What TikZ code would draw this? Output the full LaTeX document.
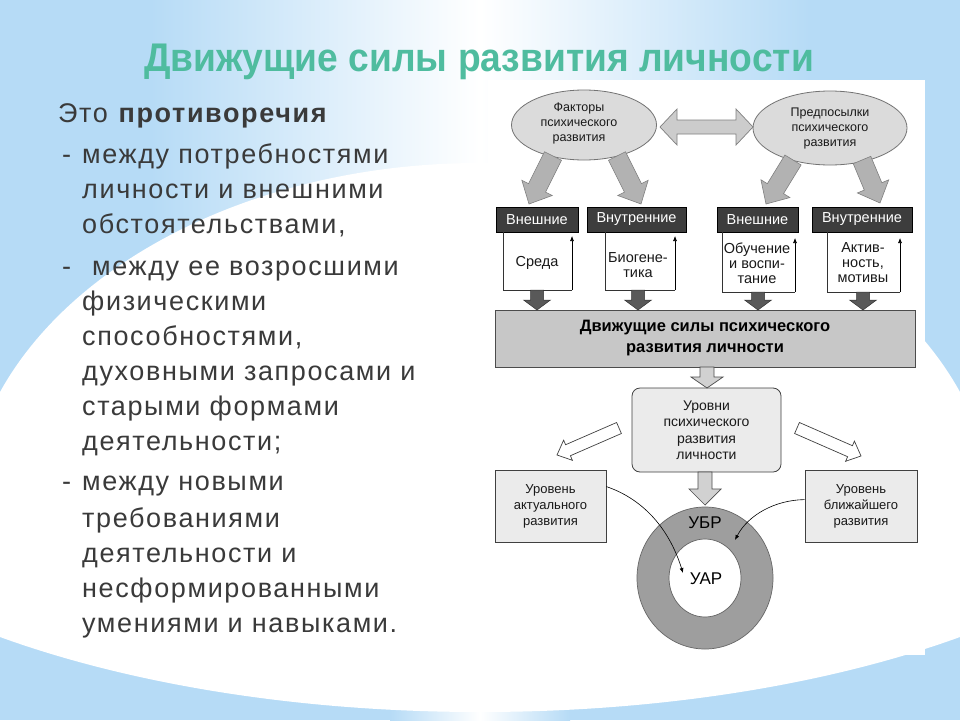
\documentclass[tikz,border=0pt]{standalone}
\usepackage{fontspec}
\setmainfont{Liberation Sans}
\newfontfamily\bodyfont{Liberation Sans}[LetterSpace=6]
\newfontfamily\titlefont{Liberation Sans}[FakeStretch=0.93]
\newfontfamily\diagfont{Liberation Sans}
\usetikzlibrary{calc,arrows.meta,shapes.geometric}
\definecolor{bgblue}{HTML}{B6DBF6}
\definecolor{titleteal}{HTML}{4FBC9F}
\definecolor{bodygray}{HTML}{3A3A3A}
\definecolor{hdrdark}{HTML}{3D3D3D}
\newcommand\blockarrow[6]{%
  \coordinate (ba-h) at ($(#3)!#6!(#2)$);
  \draw[#1] ($(#2)!#4!90:(#3)$) -- ($(ba-h)!#4!90:(#3)$) -- ($(ba-h)!#5!90:(#3)$) -- (#3)
    -- ($(ba-h)!#5!-90:(#3)$) -- ($(ba-h)!#4!-90:(#3)$) -- ($(#2)!#4!-90:(#3)$) -- cycle;
}
\tikzset{
  bodytxt/.style={anchor=base west, inner sep=0pt, text=bodygray, font=\bodyfont\fontsize{27}{32}\selectfont},
  ovaltxt/.style={align=center, inner sep=0pt, text=black!90, font=\diagfont\fontsize{12.5}{15}\selectfont},
  boxtxt/.style={align=center, inner sep=0pt, text=black!90, font=\diagfont\fontsize{14.5}{15}\selectfont},
  hdr/.style={fill=hdrdark, draw=black, line width=0.6pt, inner sep=0pt, minimum height=25pt, text=white, font=\diagfont\fontsize{14.5}{15}\selectfont},
  oval/.style={ellipse, fill=black!14, draw=black!55, line width=0.8pt},
  fatgray/.style={fill=black!30, draw=black!50, line width=0.6pt},
  darkarrow/.style={fill=black!65, draw=black!80, line width=0.5pt},
  lightarrow/.style={fill=black!18, draw=black!70, line width=0.7pt},
  hollowarrow/.style={fill=white, draw=black!75, line width=0.7pt},
  openbox/.style={draw=black!80, line width=0.7pt},
  thinarrow/.style={draw=black, line width=0.6pt, -{Latex[length=5pt,width=4pt]}},
  greybox/.style={fill=black!8, draw=black!75, line width=0.8pt, inner sep=0pt, align=center, text=black!90},
}
\begin{document}
\begin{tikzpicture}[x=1pt,y=-1pt]
\useasboundingbox (0,0) rectangle (960,720);
% background
\fill[bgblue] (0,0) rectangle (960,720);
\shade[left color=bgblue, right color=bgblue, middle color=white] (150,0) rectangle (810,360);
\shade[left color=bgblue, right color=bgblue, middle color=white] (390,360) rectangle (570,720);
\begin{scope}
  \clip (480,400) ellipse [x radius=738, y radius=312];
  \fill[white] (480,520) ellipse [x radius=514, y radius=357];
\end{scope}
\fill[white] (488,80) rectangle (925,655);

% title
\node[anchor=base, inner sep=0pt, text=titleteal, font=\titlefont\bfseries\fontsize{40}{44}\selectfont] (title) at (479,71) {Движущие силы развития личности};

% left text
\node[bodytxt] (l0) at (58,122) {Это \textbf{противоречия}};
\node[bodytxt] (d1) at (62,163) {-};
\node[bodytxt] (l1) at (82,163) {между потребностями};
\node[bodytxt] (l2) at (82,198) {личности и внешними};
\node[bodytxt] (l3) at (82,233) {обстоятельствами,};
\node[bodytxt] (d2) at (62,275) {-};
\node[bodytxt] (l4) at (92,275) {между ее возросшими};
\node[bodytxt] (l5) at (82,310) {физическими};
\node[bodytxt] (l6) at (82,345) {способностями,};
\node[bodytxt] (l7) at (82,380) {духовными запросами и};
\node[bodytxt] (l8) at (82,415) {старыми формами};
\node[bodytxt] (l9) at (82,450) {деятельности;};
\node[bodytxt] (d3) at (62,490) {-};
\node[bodytxt] (l10) at (82,490) {между новыми};
\node[bodytxt] (l11) at (82,527) {требованиями};
\node[bodytxt] (l12) at (82,562) {деятельности и};
\node[bodytxt] (l13) at (82,597) {несформированными};
\node[bodytxt] (l14) at (82,632) {умениями и навыками.};

% ovals
\node[oval, minimum width=145pt, minimum height=70pt] (o1) at (584,125) {};
\node[ovaltxt] (o1t) at (579,123) {Факторы\\психического\\развития};
\node[oval, minimum width=154pt, minimum height=74pt] (o2) at (830,128) {};
\node[ovaltxt] (o2t) at (830,128) {Предпосылки\\психического\\развития};

% double arrow
\coordinate (dal) at (660,127);
\coordinate (dar) at (753,127);
\draw[fill=black!20, draw=black!50, line width=0.7pt] (dal) -- ++(17,-18) -- ++(0,11) -- ($(dar)+(-17,-7)$) -- ++(0,-11) -- (dar)
  -- ++(-17,18) -- ++(0,-11) -- ($(dal)+(17,7)$) -- ++(0,11) -- cycle;

% headers
\node[hdr, minimum width=82pt] (h1) at (537,219.5) {Внешние};
\node[hdr, minimum width=99pt] (h2) at (636.5,219.5) {Внутренние};
\node[hdr, minimum width=81pt] (h3) at (757.5,219.5) {Внешние};
\node[hdr, minimum width=100pt] (h4) at (862,219.5) {Внутренние};

% fat arrows from ovals
\coordinate (fa1s) at (553,156); \coordinate (fa1e) at (529,204);
\coordinate (fa2s) at (617,156); \coordinate (fa2e) at (641,204);
\coordinate (fa3s) at (793,160); \coordinate (fa3e) at (766,204);
\coordinate (fa4s) at (862,160); \coordinate (fa4e) at (880,203);
\blockarrow{fatgray}{fa1s}{fa1e}{9.5pt}{17pt}{18pt}
\blockarrow{fatgray}{fa2s}{fa2e}{9.5pt}{17pt}{18pt}
\blockarrow{fatgray}{fa3s}{fa3e}{9.5pt}{17pt}{18pt}
\blockarrow{fatgray}{fa4s}{fa4e}{9.5pt}{17pt}{18pt}

% open boxes with return arrows
\coordinate (w1a) at (503,232); \coordinate (w1b) at (572,290);
\coordinate (w2a) at (605,232); \coordinate (w2b) at (675,290);
\coordinate (w3a) at (722,232); \coordinate (w3b) at (795,292);
\coordinate (w4a) at (827,232); \coordinate (w4b) at (900,292);
\foreach \i in {1,2,3,4} {
  \draw[openbox] (w\i a) |- (w\i b);
  \draw[thinarrow] (w\i b) -- ++(0,-54);
}
\node[boxtxt] (t1) at (537,263) {Среда};
\node[boxtxt] (t2) at (638,265) {Биогене-\\тика};
\node[boxtxt] (t3) at (757,263) {Обучение\\и воспи-\\тание};
\node[boxtxt] (t4) at (863,263) {Актив-\\ность,\\мотивы};

% main box
\node[fill=black!22, draw=black!70, line width=0.8pt, minimum width=420pt, minimum height=57pt, inner sep=0pt,
  align=center, font=\diagfont\bfseries\fontsize{16.5}{21}\selectfont] (mb) at (705,338.5) {Движущие силы психического\\развития личности};

% dark down arrows
\foreach \x/\yy [count=\i] in {537/290, 638/290, 758/292, 863/292} {
  \coordinate (da\i s) at (\x,\yy);
  \coordinate (da\i e) at (\x,310);
  \blockarrow{darkarrow}{da\i s}{da\i e}{6.5pt}{13.5pt}{10pt}
}

% levels box
\node[greybox, rounded corners=8pt, minimum width=149pt, minimum height=84pt,
  font=\diagfont\fontsize{14}{16.5}\selectfont] (lv) at (706.5,430) {Уровни\\психического\\развития\\личности};
\coordinate (a5s) at (707,367); \coordinate (a5e) at (707,388);
\blockarrow{lightarrow}{a5s}{a5e}{7pt}{16pt}{11pt}

% side boxes
\node[greybox, minimum width=111pt, minimum height=72pt,
  font=\diagfont\fontsize{13}{16}\selectfont] (la) at (550.5,506) {Уровень\\актуального\\развития};
\node[greybox, minimum width=112pt, minimum height=72pt,
  font=\diagfont\fontsize{13}{16}\selectfont] (lb) at (861,506) {Уровень\\ближайшего\\развития};

% hollow side arrows
\coordinate (sa1s) at (619,428); \coordinate (sa1e) at (557,455);
\coordinate (sa2s) at (797,428); \coordinate (sa2e) at (861,456);
\blockarrow{hollowarrow}{sa1s}{sa1e}{6pt}{11pt}{12pt}
\blockarrow{hollowarrow}{sa2s}{sa2e}{6pt}{11pt}{12pt}

% ring
\coordinate (rc) at (705,578);
\fill[black!38, even odd rule] (rc) ellipse [x radius=68, y radius=71] (rc) ellipse [x radius=36, y radius=39];
\draw[black!60, line width=0.7pt] (rc) ellipse [x radius=68, y radius=71];
\draw[black!60, line width=0.7pt] (rc) ellipse [x radius=36, y radius=39];
\node[inner sep=0pt, font=\diagfont\fontsize{17}{18}\selectfont] (ubr) at (705,523) {УБР};
\node[inner sep=0pt, font=\diagfont\fontsize{17}{18}\selectfont] (uar) at (706,579) {УАР};

\coordinate (a6s) at (705,472); \coordinate (a6e) at (705,505);
\blockarrow{lightarrow}{a6s}{a6e}{7pt}{16pt}{16pt}

% curved arrows
\coordinate (c1e) at (683,573);
\coordinate (c2e) at (735,540);
\draw[thinarrow] ($(la.north east)+(0,17)$) .. controls (640,498) and (668,525) .. (c1e);
\draw[thinarrow] ($(lb.north west)+(0,30)$) .. controls (775,500) and (748,515) .. (c2e);
\end{tikzpicture}
\end{document}
